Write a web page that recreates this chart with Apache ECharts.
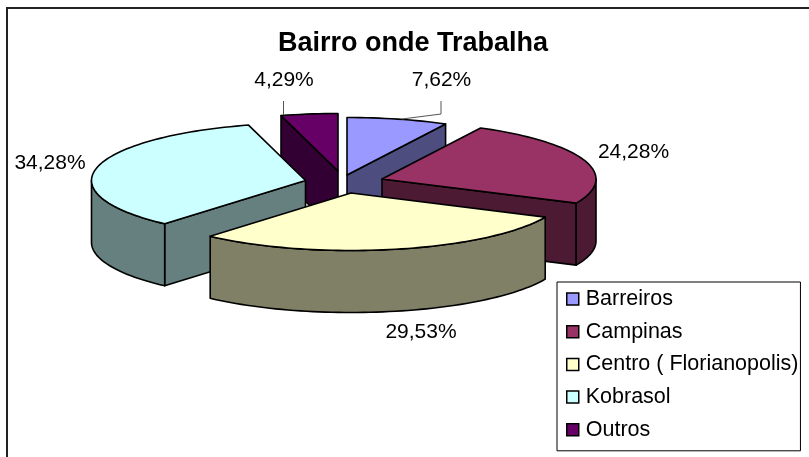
<!DOCTYPE html>
<html><head><meta charset="utf-8">
<script src="https://cdn.jsdelivr.net/npm/echarts@6/dist/echarts.min.js"></script>
<style>html,body{margin:0;padding:0;background:#fff}#c{width:809px;height:457px}</style>
</head><body><div id="c"></div>
<script>
const categories = ['Barreiros','Campinas','Centro ( Florianopolis)','Kobrasol','Outros'];
const values = [7.62,24.28,29.53,34.28,4.29];
const valueLabels = ['7,62%','24,28%','29,53%','34,28%','4,29%'];
const topColors = ['#9999FF','#993366','#FFFFCC','#CCFFFF','#660066'];
const wallColors = ['#4D4D80','#4D1A33','#808066','#668080','#330033'];
// layout of the exploded slices
const apex = [[347,175],[382,179],[351,193],[305.5,180.5],[338,171]];
const labelPos = [[441.5,80],[633.5,152],[421,332],[50,163],[284,80]];
const drawOrder = [4,0,1,3,2];
const RX = 214, RY = 57.5, DEPTH = 62;
const leaders = {0:[[441,101],[441,114],[402,119]],4:[[283.5,101],[283.5,115]]};
const total = values.reduce((a,b)=>a+b,0);
const bounds = []; let acc = 0;
values.forEach(v=>{const a=acc/total*2*Math.PI; acc+=v; bounds.push([a,acc/total*2*Math.PI]);});

function pt(i,ang,dz){return [apex[i][0]+RX*Math.sin(ang), apex[i][1]-RY*Math.cos(ang)+(dz||0)];}
function arc(i,a,b,dz){const n=Math.max(2,Math.ceil((b-a)/0.03));const r=[];for(let k=0;k<=n;k++)r.push(pt(i,a+(b-a)*k/n,dz));return r;}

function renderSlice(i){return function(params,api){
  const [a,b]=bounds[i];
  const kids=[]; const base=[apex[i][0],apex[i][1]];
  const stroke={stroke:'#000',lineWidth:1.6,lineJoin:'round'};
  const wall=(pts)=>kids.push({type:'polygon',shape:{points:pts},style:Object.assign({fill:wallColors[i]},stroke)});
  if(Math.sin(a)<-1e-6){const p=pt(i,a);wall([base,p,[p[0],p[1]+DEPTH],[base[0],base[1]+DEPTH]]);}
  if(Math.sin(b)>1e-6){const p=pt(i,b);wall([base,p,[p[0],p[1]+DEPTH],[base[0],base[1]+DEPTH]]);}
  const fa=Math.max(a,Math.PI/2), fb=Math.min(b,Math.PI*1.5);
  if(fb>fa){wall(arc(i,fa,fb,0).concat(arc(i,fa,fb,DEPTH).reverse()));}
  kids.push({type:'polygon',shape:{points:[base].concat(arc(i,a,b,0))},style:Object.assign({fill:topColors[i]},stroke)});
  if(leaders[i])kids.push({type:'polyline',shape:{points:leaders[i]},style:{stroke:'#555',lineWidth:1,fill:null}});
  kids.push({type:'text',style:{text:valueLabels[i],x:labelPos[i][0],y:labelPos[i][1],align:'center',verticalAlign:'middle',fill:'#000',font:'21px "Liberation Sans",Arial,sans-serif'}});
  return {type:'group',children:kids};
};}

const series = categories.map((name,i)=>({
  type:'custom',name,coordinateSystem:'none',
  z:2+drawOrder.indexOf(i),
  itemStyle:{color:topColors[i]},
  silent:true,animation:false,
  data:[[values[i]]],
  renderItem:renderSlice(i)
}));

const chart = echarts.init(document.getElementById('c'),null,{renderer:'canvas'});
chart.setOption({
  animation:false,
  backgroundColor:'#fff',
  title:{text:'Bairro onde Trabalha',left:408,top:25,textAlign:'center',
    textStyle:{fontFamily:'"Liberation Sans",Arial,sans-serif',fontSize:27,fontWeight:'bold',color:'#000'}},
  legend:{orient:'vertical',left:557,top:282,
    padding:[6,2,10,9],itemGap:10.7,itemWidth:12,itemHeight:12,icon:'rect',align:'left',
    borderColor:'#000',borderWidth:1,backgroundColor:'#fff',selectedMode:false,
    itemStyle:{borderColor:'#000',borderWidth:1.5},
    textStyle:{fontFamily:'"Liberation Sans",Arial,sans-serif',fontSize:21.5,color:'#000',padding:[0,0,0,2],height:21,lineHeight:21},
    data:categories},
  graphic:[{type:'polyline',z:0,shape:{points:[[7,457],[7,8],[809,8]]},style:{fill:'none',stroke:'#222',lineWidth:2}}],
  series
});
</script></body></html>
